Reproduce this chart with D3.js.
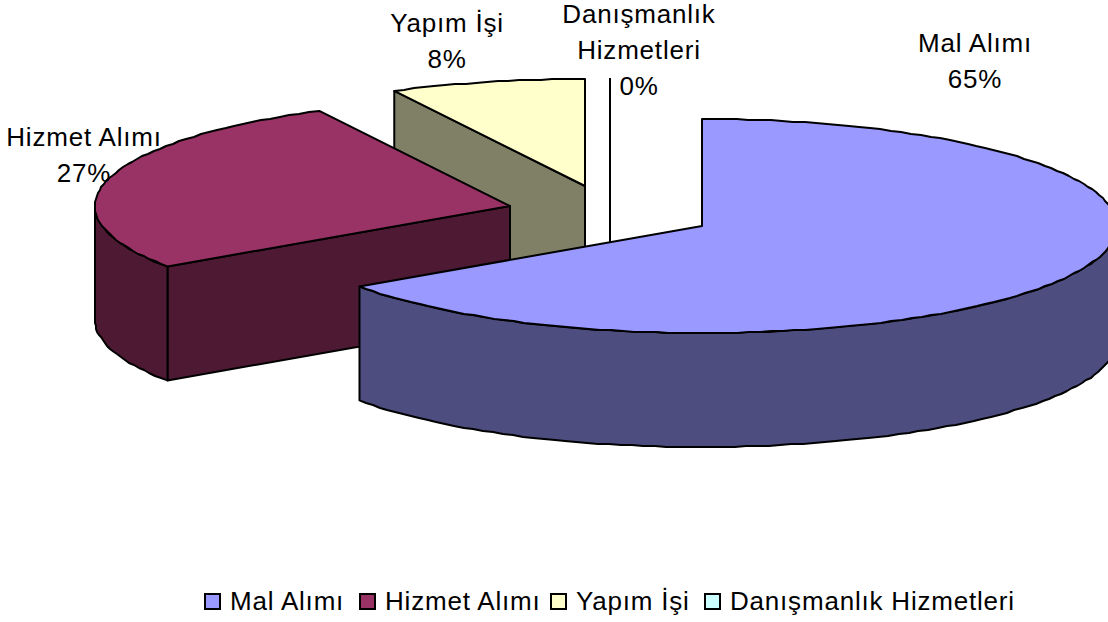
<!DOCTYPE html>
<html>
<head>
<meta charset="utf-8">
<script src="https://cdn.jsdelivr.net/npm/d3@7"></script>
<style>
  html, body { margin: 0; padding: 0; background: #fff; }
  svg { display: block; }
  text { font-family: "Liberation Sans", Arial, sans-serif; fill: #000; letter-spacing: 0.8px; }
</style>
</head>
<body>
<svg id="chart" width="1108" height="622"></svg>
<script>
// Data
const categories = ['Mal Alımı', 'Hizmet Alımı', 'Yapım İşi', 'Danışmanlık Hizmetleri'];
const shares = [65.45, 26.95, 7.6, 0];
const topColors = ['#9999ff', '#993366', '#ffffcc', '#ccffff'];
const sideColors = ['#4d4d80', '#4d1933', '#808066', '#668080'];

// Layout of the exploded 3D pie
const RX = 415;
const RY = 107;
const DEPTH = 114;
const centers = [[702, 226], [510, 206], [585, 186], [610, 185]];
const labelPos = [[975, 52], [84, 146], [447, 32], [639, 23]];
const labelLines = [['Mal Alımı'], ['Hizmet Alımı'], ['Yapım İşi'], ['Danışmanlık', 'Hizmetleri']];
const legendX = [205, 360, 551, 705];
const FONT_SIZE = 26;

const svg = d3.select('#chart');
const pie = d3.pie().sort(null).value((d) => d)(shares);
const line = d3.line();

// angle is clockwise from 12 o'clock, as d3.pie gives it
const rim = (c, a, dy = 0) => [c[0] + RX * Math.sin(a), c[1] - RY * Math.cos(a) + dy];

// coarse rounded sampling gives the same slightly stepped outline as the original
function arcPoints(c, a0, a1, dy = 0) {
  const n = Math.max(1, Math.ceil(Math.abs(a1 - a0) / (1.6 * Math.PI / 180)));
  return d3.range(n + 1).map((i) => {
    const p = rim(c, a0 + (a1 - a0) * i / n, dy);
    return i === 0 || i === n ? p : [Math.round(p[0]), Math.round(p[1])];
  });
}

// back to front
const order = [3, 2, 1, 0];
const slices = svg.append('g');

order.forEach((i) => {
  const c = centers[i];
  const { startAngle: a0, endAngle: a1 } = pie[i];
  const g = slices.append('g')
    .attr('stroke', '#000')
    .attr('stroke-width', 2)
    .attr('stroke-linejoin', 'round');

  // flat cut face below the radius that looks towards the viewer
  if (i === 1 || i === 2) {
    const p = rim(c, a0);
    g.append('path')
      .attr('fill', sideColors[i])
      .attr('d', line([c, p, [p[0], p[1] + DEPTH], [c[0], c[1] + DEPTH]]) + 'Z');
  }

  // outer wall, only the part on the front half
  const w0 = Math.max(a0, Math.PI / 2);
  const w1 = Math.min(a1, 3 * Math.PI / 2);
  if (w1 > w0) {
    const upper = arcPoints(c, w0, w1);
    const lower = arcPoints(c, w1, w0, DEPTH);
    g.append('path')
      .attr('fill', sideColors[i])
      .attr('d', line(upper.concat(lower)) + 'Z');
  }

  // zero share: only a thin line stays, top and wall
  if (a1 === a0) {
    const p = rim(c, a0);
    g.append('path')
      .attr('fill', 'none')
      .attr('d', line([p, [c[0], c[1] + DEPTH]]));
    return;
  }

  // top face
  g.append('path')
    .attr('fill', topColors[i])
    .attr('d', line([c].concat(arcPoints(c, a0, a1))) + 'Z');
});

// Data labels
const labels = svg.append('g')
  .attr('font-size', FONT_SIZE)
  .attr('text-anchor', 'middle');

categories.forEach((name, i) => {
  const [x, y] = labelPos[i];
  const lines = labelLines[i].concat(`${Math.round(shares[i])}%`);
  lines.forEach((t, k) => {
    labels.append('text').attr('x', x).attr('y', y + k * 36).text(t);
  });
});

// Legend
const legend = svg.append('g').selectAll('g').data(categories).join('g')
  .attr('transform', (d, i) => `translate(${legendX[i]},594)`);
legend.append('rect')
  .attr('width', 15)
  .attr('height', 15)
  .attr('fill', (d, i) => topColors[i])
  .attr('stroke', '#000')
  .attr('stroke-width', 2);
legend.append('text')
  .attr('x', 25)
  .attr('y', 16)
  .attr('font-size', FONT_SIZE)
  .text((d) => d);
</script>
</body>
</html>
